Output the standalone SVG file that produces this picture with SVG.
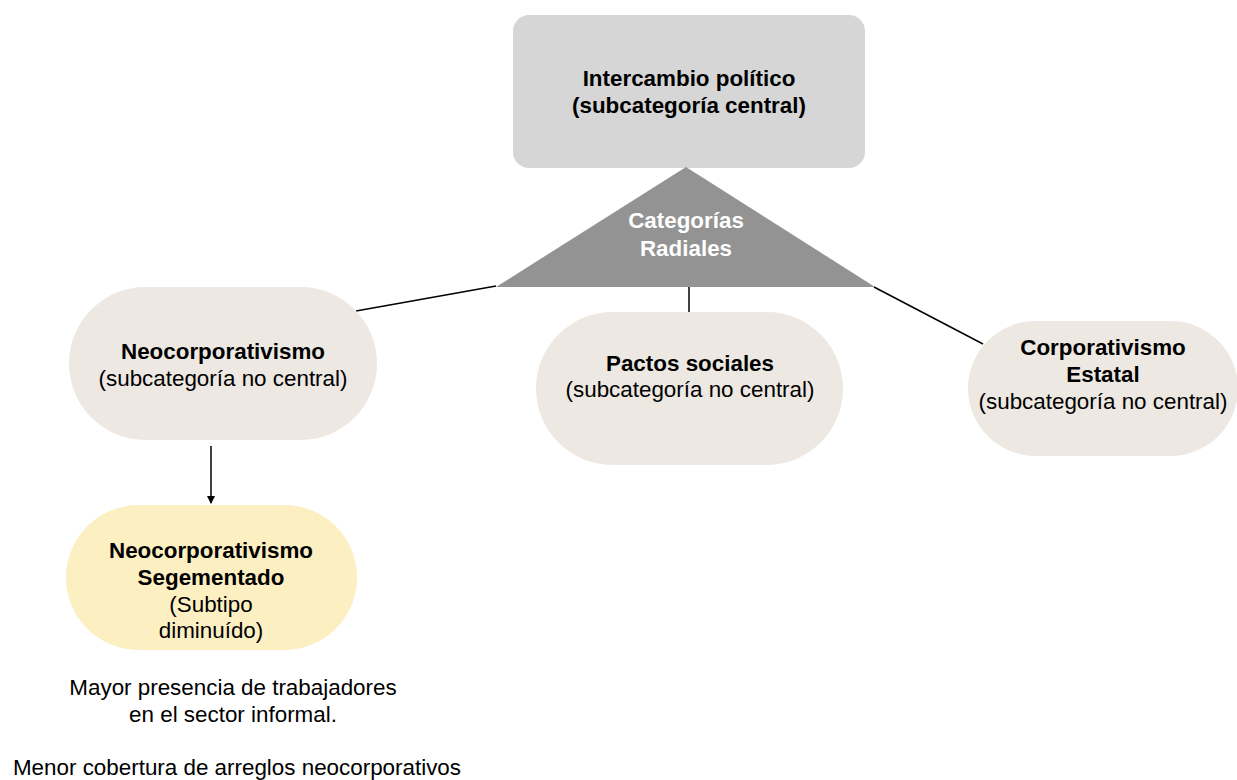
<svg xmlns="http://www.w3.org/2000/svg" width="1237" height="780" viewBox="0 0 1237 780">
<style>
text{font-family:"Liberation Sans",Arial,Helvetica,sans-serif;font-size:22.4px;fill:#000;text-anchor:middle}
.b{font-weight:bold}
.w{fill:#fff}
.pill{fill:#ede8e2}
.conn{stroke:#000;stroke-width:1.5;fill:none}
</style>
<defs>
<marker id="ah" markerWidth="8" markerHeight="8" refX="7" refY="4" orient="auto" markerUnits="userSpaceOnUse">
<path d="M0,0 L8,4 L0,8 z" fill="#000"/>
</marker>
</defs>
<rect width="1237" height="780" fill="#fff"/>
<g id="connectors">
<line class="conn" x1="356" y1="311" x2="496" y2="286"/>
<line class="conn" x1="689" y1="287" x2="689" y2="312"/>
<line class="conn" x1="874" y1="287" x2="983" y2="344"/>
<line class="conn" x1="211" y1="446" x2="211" y2="503" marker-end="url(#ah)"/>
</g>
<g id="central">
<rect x="513" y="15" width="352" height="153" rx="16" fill="#d6d6d6"/>
<text class="b" x="689" y="86">Intercambio político</text>
<text class="b" x="689" y="113">(subcategoría central)</text>
</g>
<g id="radiales">
<polygon points="686,167 496,287 875,287" fill="#939393"/>
<text class="b w" x="686" y="228">Categorías</text>
<text class="b w" x="686" y="256">Radiales</text>
</g>
<g id="neocorporativismo">
<rect class="pill" x="69" y="287" width="308" height="153" rx="76.5"/>
<text class="b" x="223" y="359">Neocorporativismo</text>
<text x="223" y="386">(subcategoría no central)</text>
</g>
<g id="pactos">
<rect class="pill" x="536" y="312" width="307" height="153" rx="76.5"/>
<text class="b" x="690" y="371">Pactos sociales</text>
<text x="690" y="397">(subcategoría no central)</text>
</g>
<g id="corporativismo">
<rect class="pill" x="968" y="321" width="270" height="135" rx="67.5"/>
<text class="b" x="1103" y="355">Corporativismo</text>
<text class="b" x="1103" y="382">Estatal</text>
<text x="1103" y="409">(subcategoría no central)</text>
</g>
<g id="segmentado">
<rect x="66" y="505" width="291" height="145" rx="72.5" fill="#fcefc2"/>
<text class="b" x="211" y="558">Neocorporativismo</text>
<text class="b" x="211" y="585">Segementado</text>
<text x="211" y="612">(Subtipo</text>
<text x="211" y="638">diminuído)</text>
</g>
<g id="notes">
<text x="233" y="695">Mayor presencia de trabajadores</text>
<text x="233" y="722">en el sector informal.</text>
<text x="237" y="775">Menor cobertura de arreglos neocorporativos</text>
</g>
</svg>
